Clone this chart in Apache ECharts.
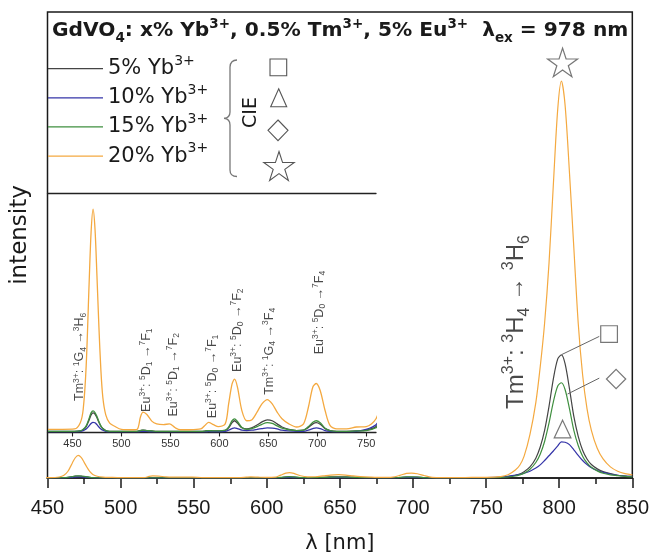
<!DOCTYPE html>
<html><head><meta charset="utf-8">
<script src="https://cdn.jsdelivr.net/npm/echarts@6/dist/echarts.min.js"></script>
<style>html,body{margin:0;padding:0;background:#fff}#c{width:652px;height:559px}</style>
</head><body><div id="c"></div>
<script>
// ---- data (units: 20% Yb peak at ~801 nm = 1000) ----
const wavelength = [425,440,452,458,461,464,467,469,471,473,475,477,479,481,484,488,493,500,510,516,519.5,522,526,531,536,543,549,555,560,570,581,586,589,594,599,606,609.5,613,615.5,618.5,623,628,633,638.5,643.5,649,654,659,664,671,679,686,691,695.5,699,703,708,713,720,730,740,750,760,765,770,773,776,780,784,787,790,793,796,799,801.5,804,807,810,813,816,819,822,826,830,835,840,845,850];
const yb5  = [0.3,0.3,0.3,0.4,0.7,1.5,3.2,4.5,5.0,4.7,3.8,2.6,1.6,1.0,0.5,0.3,0.3,0.3,0.3,0.3,0.5,0.6,0.5,0.4,0.3,0.3,0.3,0.3,0.3,0.3,0.3,0.4,0.5,0.4,0.4,0.5,1.2,2.5,3.0,2.4,1.2,0.9,1.2,1.9,2.7,3.2,3.0,2.2,1.4,0.8,0.5,0.6,1.3,2.2,2.5,2.1,1.0,0.5,0.3,0.3,0.4,0.6,1.5,3.5,7,10,16,28,50,78,120,180,250,300,310,288,225,155,105,70,48,34,23,16,11,7,5,4];
const yb10 = [0.2,0.2,0.2,0.3,0.5,0.9,1.7,2.3,2.6,2.5,2.0,1.4,0.9,0.6,0.3,0.2,0.2,0.2,0.2,0.2,0.3,0.3,0.3,0.2,0.2,0.2,0.2,0.2,0.2,0.2,0.2,0.2,0.3,0.2,0.2,0.3,0.6,1.0,1.2,1.0,0.6,0.5,0.6,0.8,1.0,1.2,1.1,0.9,0.6,0.4,0.3,0.3,0.6,1.0,1.2,1.0,0.5,0.3,0.2,0.2,0.3,0.8,2,4,7,9,12,17,25,33,44,56,68,81,91,90,84,71,57,44,34,26,19,14,10,7,5,4];
const yb15 = [0.3,0.3,0.3,0.4,0.8,1.7,3.6,5.0,5.5,5.1,4.1,2.8,1.7,1.0,0.5,0.3,0.3,0.3,0.3,0.3,0.5,0.6,0.5,0.4,0.3,0.3,0.3,0.3,0.3,0.3,0.3,0.4,0.5,0.4,0.4,0.6,1.4,3.0,3.5,2.8,1.3,0.8,1.0,1.5,2.1,2.5,2.3,1.7,1.1,0.7,0.5,0.6,1.5,2.6,3.0,2.5,1.1,0.5,0.3,0.3,0.4,0.5,1.2,2.5,5,8,12,22,39,60,92,138,192,232,240,223,175,120,82,55,38,27,18,12,8,6,4,3];
const yb20 = [0.8,0.8,0.9,2.5,6,17,38,51,57,52,40,27,16,9,4.5,2.4,1.6,0.8,0.7,0.8,4.0,5.2,4.6,2.9,2.2,2.0,2.2,1.2,0.7,0.7,0.9,2.0,2.6,2.0,1.5,2.2,7.3,12.4,13.6,11.6,5.6,3.0,3.2,5.2,7.3,8.4,7.3,5.2,3.5,2.2,1.4,2.2,6.5,11.6,12.5,10.7,5.6,1.8,0.9,0.9,1.4,1.5,3.5,8,20,32,55,110,190,280,390,540,740,930,1000,940,770,580,390,260,175,120,75,48,28,17,11,8];
const seriesNames = ['5% Yb', '10% Yb', '15% Yb', '20% Yb'];
const seriesColors = ['#454545', '#3434a8', '#3f8f3f', '#f4a940'];
const mainTicks = [450, 500, 550, 600, 650, 700, 750, 800, 850];
const insetTicks = [450, 500, 550, 600, 650, 700, 750];
// CIE markers on the 800 nm peaks [nm, intensity]
const markerSquare = [834.1, 362.5];
const markerTriangle = [802.3, 123.2];
const markerDiamond = [838.9, 249.3];
const markerStar = [802.3, 1047];
const leaderSquare = [[827.4, 356.7], [801.8, 311.1]];
const leaderDiamond = [[827.4, 251.6], [805.7, 211.5]];
// transition labels (inset coordinates)
const insetLabelPos = [[457.4, 19.3], [525.5, 15.9], [553, 14.7], [592.6, 14.3], [618.4, 26.1], [651, 20.7], [702, 30.6]];
const insetLabelText = [
  '{T|Tm}{s|3+}{T|: }{s|1}{T|G}{b|4}{T| →}{s|3}{T|H}{b|6}',
  '{T|Eu}{s|3+}{T|: }{s|5}{T|D}{b|1}{T| →}{s|7}{T|F}{b|1}',
  '{T|Eu}{s|3+}{T|: }{s|5}{T|D}{b|1}{T| →}{s|7}{T|F}{b|2}',
  '{T|Eu}{s|3+}{T|: }{s|5}{T|D}{b|0}{T| →}{s|7}{T|F}{b|1}',
  '{T|Eu}{s|3+}{T|: }{s|5}{T|D}{b|0}{T| →}{s|7}{T|F}{b|2}',
  '{T|Tm}{s|3+}{T|: }{s|1}{T|G}{b|4}{T| →}{s|3}{T|F}{b|4}',
  '{T|Eu}{s|3+}{T|: }{s|5}{T|D}{b|0}{T| →}{s|7}{T|F}{b|4}'
];
const mainLabelPos = [770.8, 393];
const mainLabelText = '{T|Tm}{s|3+}{T|: }{s|3}{T|H}{b|4}{T| → }{s|3}{T|H}{b|6}';

// ---- chart ----
const SANS = 'DejaVu Sans, Liberation Sans, sans-serif';
const ARIAL = 'Liberation Sans, Arial, sans-serif';
const INK = '#1a1a1a';
const chart = echarts.init(document.getElementById('c'));
const pairs = arr => wavelength.map((w, i) => [w, arr[i]]);
const allData = [yb5, yb10, yb15, yb20];

const series = [];
allData.forEach((arr, k) => {
  series.push({
    name: seriesNames[k], type: 'line', xAxisIndex: 0, yAxisIndex: 0,
    data: pairs(arr), showSymbol: false, symbol: 'none', smooth: 0.3,
    lineStyle: { width: 1.2, color: seriesColors[k] }, itemStyle: { color: seriesColors[k] },
    silent: true, z: 3
  });
});
allData.forEach((arr, k) => {
  series.push({
    name: seriesNames[k], type: 'line', xAxisIndex: 1, yAxisIndex: 1,
    data: pairs(arr), showSymbol: false, symbol: 'none', smooth: 0.3,
    lineStyle: { width: 1.3, color: seriesColors[k] }, itemStyle: { color: seriesColors[k] },
    silent: true, z: 3
  });
});
const starPath = 'path://M0,-50L11.2,-15.5L47.6,-15.5L18.2,5.9L29.4,40.5L0,19.1L-29.4,40.5L-18.2,5.9L-47.6,-15.5L-11.2,-15.5Z';
series.push({
  type: 'scatter', xAxisIndex: 0, yAxisIndex: 0, silent: true, z: 5,
  itemStyle: { color: 'rgba(0,0,0,0)', borderColor: '#555', borderWidth: 1.2 },
  data: [
    { value: markerSquare, symbol: 'rect', symbolSize: 16.7 },
    { value: markerTriangle, symbol: 'triangle', symbolSize: [16.7, 17.7] },
    { value: markerDiamond, symbol: 'diamond', symbolSize: [19.3, 19.3] },
    { value: markerStar, symbol: starPath, symbolSize: [30, 28.5] }
  ]
});
[leaderSquare, leaderDiamond].forEach(seg => series.push({
  type: 'line', xAxisIndex: 0, yAxisIndex: 0, data: seg, symbol: 'none', silent: true, z: 4,
  lineStyle: { color: '#666', width: 1 }
}));
const richSmall = {
  T: { fontFamily: ARIAL, fontSize: 12.5, lineHeight: 16, color: INK },
  s: { fontFamily: ARIAL, fontSize: 8.5, lineHeight: 9, verticalAlign: 'top', color: INK },
  b: { fontFamily: ARIAL, fontSize: 8.5, lineHeight: 9, verticalAlign: 'bottom', color: INK }
};
series.push({
  type: 'scatter', xAxisIndex: 1, yAxisIndex: 1, silent: true, symbolSize: 0, z: 6,
  data: insetLabelPos.map((p, i) => ({ value: p, label: { formatter: insetLabelText[i] } })),
  label: { show: true, position: 'inside', rotate: 90, rich: richSmall }
});
series.push({
  type: 'scatter', xAxisIndex: 0, yAxisIndex: 0, silent: true, symbolSize: 0, z: 6,
  data: [{ value: mainLabelPos, label: { formatter: mainLabelText } }],
  label: {
    show: true, position: 'inside', rotate: 90,
    rich: {
      T: { fontFamily: ARIAL, fontSize: 24, lineHeight: 32, color: INK },
      s: { fontFamily: ARIAL, fontSize: 16, lineHeight: 16, verticalAlign: 'top', color: INK },
      b: { fontFamily: ARIAL, fontSize: 16, lineHeight: 16, verticalAlign: 'bottom', color: INK }
    }
  }
});

// CIE decoration (legend-like group)
const starPts = (cx, cy, R) => {
  const pts = [];
  for (let i = 0; i < 10; i++) {
    const r = i % 2 === 0 ? R : R * 0.382;
    const a = -Math.PI / 2 + i * Math.PI / 5;
    pts.push([cx + r * Math.cos(a), cy + r * Math.sin(a)]);
  }
  return pts;
};
const gStroke = { fill: 'rgba(0,0,0,0)', stroke: '#555', lineWidth: 1.1 };
const braceStroke = { fill: null, stroke: '#777', lineWidth: 1.3 };

const option = {
  animation: false,
  backgroundColor: '#fff',
  title: {
    left: 52, top: 17, padding: 0,
    text: '{b|GdVO}{sub|4}{b|: x% Yb}{sup|3+}{b|, 0.5% Tm}{sup|3+}{b|, 5% Eu}{sup|3+}{b|  λ}{sub|ex}{b| = 978 nm}',
    textStyle: {
      rich: {
        b: { fontFamily: SANS, fontWeight: 'bold', fontSize: 20.2, lineHeight: 28, color: INK },
        sup: { fontFamily: SANS, fontWeight: 'bold', fontSize: 13.5, lineHeight: 14, verticalAlign: 'top', color: INK },
        sub: { fontFamily: SANS, fontWeight: 'bold', fontSize: 13.5, lineHeight: 14, verticalAlign: 'bottom', color: INK }
      }
    }
  },
  legend: {
    data: seriesNames, orient: 'vertical', left: 48, top: 54, padding: 0,
    icon: 'rect', itemWidth: 55, itemHeight: 1.2, itemGap: 4, selectedMode: false,
    formatter: n => '{a|' + n + '}{s|3+}',
    textStyle: {
      rich: {
        a: { fontFamily: SANS, fontSize: 21, lineHeight: 29.3, color: INK },
        s: { fontFamily: SANS, fontSize: 14, lineHeight: 14, verticalAlign: 'top', color: INK }
      }
    }
  },
  grid: [
    { left: 47.5, top: 12, width: 586.5, height: 472, show: true, borderColor: INK, borderWidth: 1.5, containLabel: false },
    { left: 47.5, top: 193, width: 328.5, height: 239.5, containLabel: false }
  ],
  xAxis: [
    {
      gridIndex: 0, type: 'value', min: 450, max: 850, interval: 50,
      axisLine: { show: true, lineStyle: { color: INK, width: 1.6 } },
      axisTick: { show: true, inside: false, length: 10, customValues: mainTicks, lineStyle: { color: INK, width: 1.5 } },
      minorTick: { show: true, splitNumber: 2, length: 6, lineStyle: { color: INK, width: 1.5 } },
      axisLabel: { fontFamily: ARIAL, fontSize: 20, color: INK, margin: 20, customValues: mainTicks },
      splitLine: { show: false },
      name: 'λ [nm]', nameLocation: 'middle', nameGap: 55,
      nameTextStyle: { fontFamily: SANS, fontSize: 21, color: INK }
    },
    {
      gridIndex: 1, type: 'value', min: 424.5, max: 760,
      axisLine: { show: true, onZero: false, lineStyle: { color: '#222', width: 1.3 } },
      axisTick: { show: true, inside: false, length: 4, customValues: insetTicks, lineStyle: { color: '#222', width: 1.1 } },
      axisLabel: { fontFamily: ARIAL, fontSize: 11, color: '#333', margin: 6, customValues: insetTicks },
      splitLine: { show: false }
    },
    {
      gridIndex: 1, type: 'value', position: 'top', min: 424.5, max: 760,
      axisLine: { show: true, onZero: false, lineStyle: { color: '#222', width: 1.3 } },
      axisTick: { show: false }, axisLabel: { show: false }, splitLine: { show: false }
    }
  ],
  yAxis: [
    { gridIndex: 0, type: 'value', min: 0, max: 1174, axisLine: { show: false }, axisTick: { show: false }, axisLabel: { show: false }, splitLine: { show: false } },
    { gridIndex: 1, type: 'value', min: 0, max: 61.1, axisLine: { show: false }, axisTick: { show: false }, axisLabel: { show: false }, splitLine: { show: false } }
  ],
  graphic: [
    { type: 'text', x: 20, y: 235, rotation: Math.PI / 2, style: { text: 'intensity', fontFamily: SANS, fontSize: 23, fill: INK, align: 'center', verticalAlign: 'middle' } },
    { type: 'text', x: 251.5, y: 112.5, rotation: Math.PI / 2, style: { text: 'CIE', fontFamily: SANS, fontSize: 19, fill: INK, align: 'center', verticalAlign: 'middle' } },
    { type: 'bezierCurve', shape: { x1: 237, y1: 60, cpx1: 230.5, cpy1: 60, x2: 230, y2: 67 }, style: braceStroke },
    { type: 'line', shape: { x1: 230, y1: 67, x2: 230, y2: 112 }, style: braceStroke },
    { type: 'bezierCurve', shape: { x1: 230, y1: 112, cpx1: 230, cpy1: 118, x2: 224, y2: 118.3 }, style: braceStroke },
    { type: 'bezierCurve', shape: { x1: 224, y1: 118.3, cpx1: 230, cpy1: 118.6, x2: 230, y2: 125 }, style: braceStroke },
    { type: 'line', shape: { x1: 230, y1: 125, x2: 230, y2: 170 }, style: braceStroke },
    { type: 'bezierCurve', shape: { x1: 230, y1: 170, cpx1: 230, cpy1: 176.5, x2: 237, y2: 176.5 }, style: braceStroke },
    { type: 'rect', shape: { x: 270, y: 59, width: 16.7, height: 16.7 }, style: gStroke },
    { type: 'polygon', shape: { points: [[278.7, 88.8], [286.7, 106.8], [270.7, 106.8]] }, style: gStroke },
    { type: 'polygon', shape: { points: [[278, 120], [288, 130.3], [278, 140.7], [268, 130.3]] }, style: gStroke },
    { type: 'polygon', shape: { points: starPts(279, 167.5, 16) }, style: gStroke }
  ],
  series: series
};
chart.setOption(option);
</script>
</body></html>
